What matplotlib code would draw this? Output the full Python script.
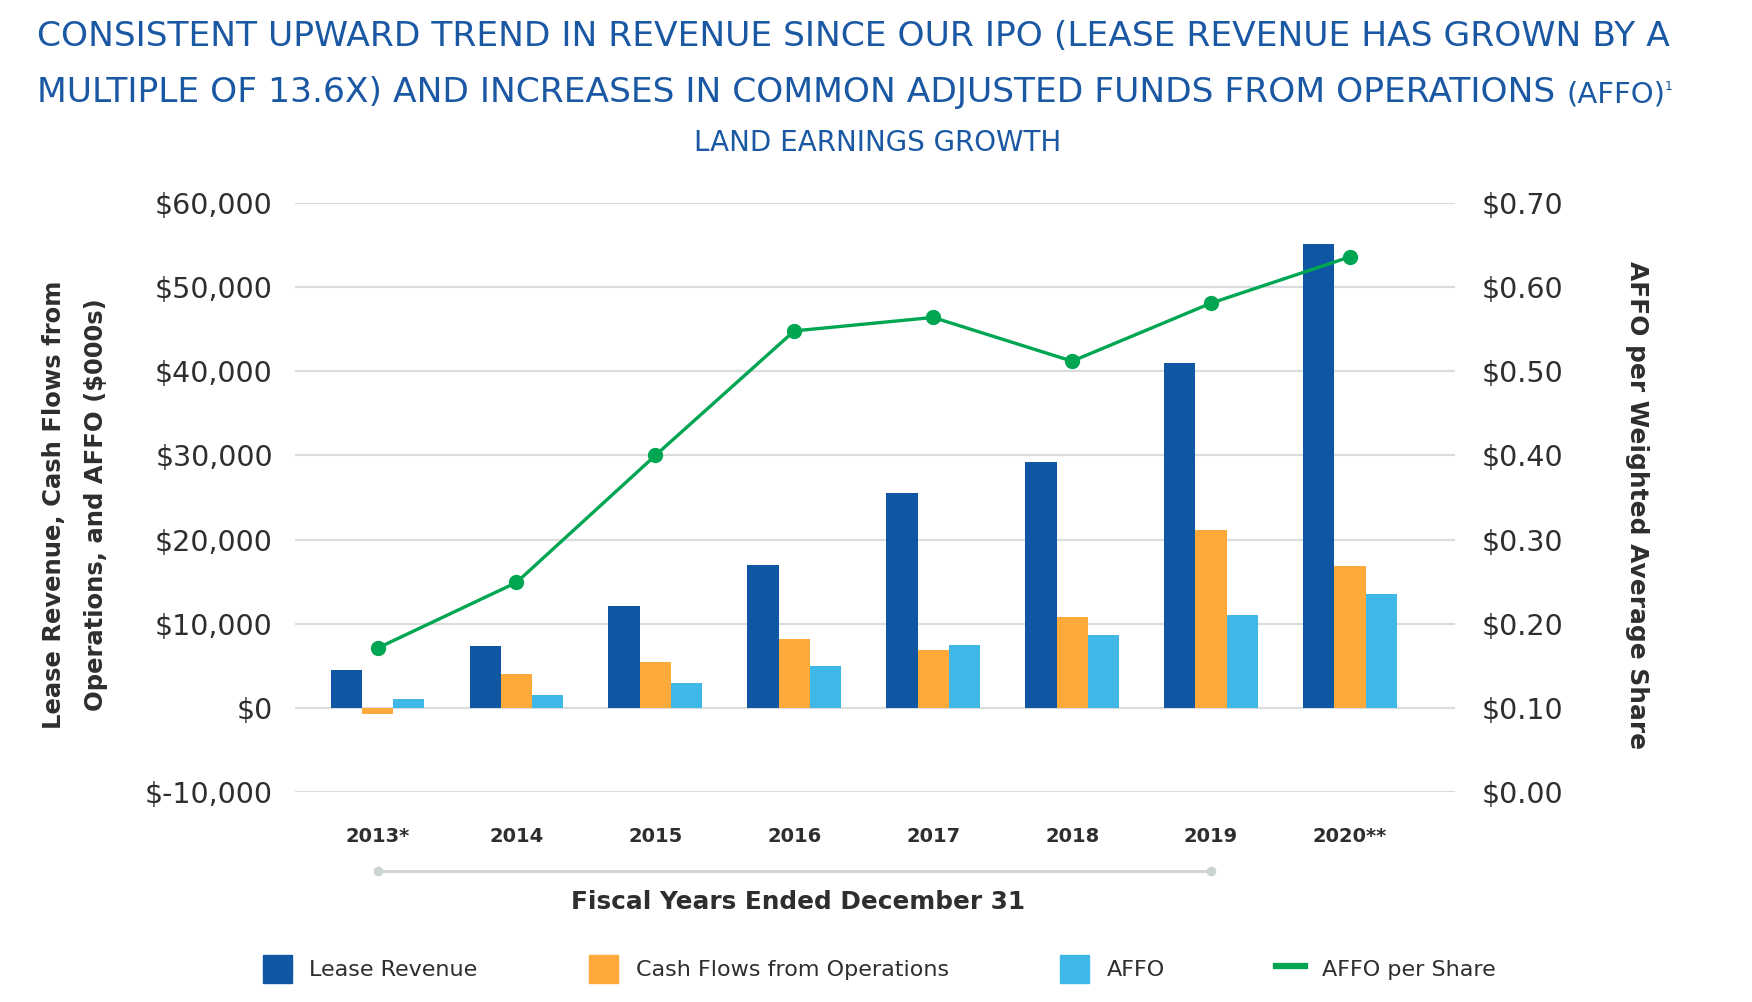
import numpy as np
import matplotlib.pyplot as plt
from matplotlib.patches import Patch
from matplotlib.lines import Line2D
from matplotlib.ticker import FuncFormatter, MultipleLocator
import matplotlib.transforms as mtransforms

years = ["2013*", "2014", "2015", "2016", "2017", "2018", "2019", "2020**"]
lease_revenue = [4450, 7350, 12050, 17000, 25550, 29200, 40950, 55150]
cash_flows = [-750, 4050, 5400, 8200, 6850, 10800, 21150, 16900]
affo = [1000, 1500, 2950, 4950, 7500, 8700, 11000, 13550]
affo_per_share = [0.171, 0.249, 0.400, 0.548, 0.564, 0.512, 0.581, 0.636]

BLUE = "#0F57A2"
ORANGE = "#FDAA3A"
LIGHT_BLUE = "#40B8E7"
GREEN = "#00A651"
TITLE_BLUE = "#1B58A4"
GRID = "#DADDDD"
TEXT = "#2E2E2E"

fig = plt.figure(figsize=(17.52, 10.02), dpi=100)
ax = fig.add_axes([295 / 1752, 1 - 792 / 1002, (1455 - 295) / 1752, (792 - 203) / 1002])
ax2 = ax.twinx()

x = np.arange(len(years))
w = 0.225
ax.bar(x - w, lease_revenue, w, color=BLUE, zorder=2)
ax.bar(x, cash_flows, w, color=ORANGE, zorder=2)
ax.bar(x + w, affo, w, color=LIGHT_BLUE, zorder=2)

ax.set_xlim(-0.594, 7.756)
ax.set_ylim(-10000, 60000)
ax.yaxis.set_major_locator(MultipleLocator(10000))
ax.yaxis.set_major_formatter(FuncFormatter(lambda v, p: f"${v:,.0f}"))
ax.grid(axis="y", color=GRID, lw=1.6)
ax.set_axisbelow(True)

ax2.plot(x, affo_per_share, color=GREEN, lw=2.4, marker="o", ms=10, zorder=3)
ax2.set_ylim(0, 0.70)
ax2.yaxis.set_major_locator(MultipleLocator(0.10))
ax2.yaxis.set_major_formatter(FuncFormatter(lambda v, p: f"${v:.2f}"))

for a in (ax, ax2):
    for s in a.spines.values():
        s.set_visible(False)
ax.tick_params(axis="y", length=0, pad=16, labelsize=20.5, labelcolor=TEXT)
ax2.tick_params(axis="y", length=0, pad=19.5, labelsize=20.5, labelcolor=TEXT)
ax.set_xticks(x)
ax.set_xticklabels(years, fontsize=14, fontweight="bold", color=TEXT)
ax.tick_params(axis="x", length=0, pad=25.5)

# grey bracket line under the year labels
trans = mtransforms.blended_transform_factory(ax.transData, ax.transAxes)
ax.plot([0, 6], [-0.1335, -0.1335], transform=trans, clip_on=False, color="#CDD2D2",
        lw=2, marker="o", ms=6)

fig.text(798 / 1752, 1 - 902 / 1002, "Fiscal Years Ended December 31", ha="center", va="center",
         fontsize=17.8, fontweight="bold", color=TEXT)
fig.text(75 / 1752, 1 - 505 / 1002, "Lease Revenue, Cash Flows from\nOperations, and AFFO ($000s)",
         rotation=90, ha="center", va="center", multialignment="center", linespacing=1.9,
         fontsize=17.5, fontweight="bold", color=TEXT)
fig.text(1637 / 1752, 1 - 505 / 1002, "AFFO per Weighted Average Share", rotation=270,
         ha="center", va="center", fontsize=17.9, fontweight="bold", color=TEXT)

# titles
fig.text(37 / 1752, 1 - 46 / 1002,
         "CONSISTENT UPWARD TREND IN REVENUE SINCE OUR IPO (LEASE REVENUE HAS GROWN BY A",
         fontsize=24.8, color=TITLE_BLUE, va="baseline")
t2 = fig.text(37 / 1752, 1 - 102 / 1002,
              "MULTIPLE OF 13.6X) AND INCREASES IN COMMON ADJUSTED FUNDS FROM OPERATIONS ",
              fontsize=24.8, color=TITLE_BLUE, va="baseline")
fig.canvas.draw()
end2 = t2.get_window_extent().x1 / 1752
t3 = fig.text(end2, 1 - 102 / 1002, "(AFFO)", fontsize=21, color=TITLE_BLUE, va="baseline")
fig.canvas.draw()
end3 = t3.get_window_extent().x1 / 1752
fig.text(end3, 1 - 90 / 1002, "1", fontsize=9, color=TITLE_BLUE, va="baseline")
fig.text(878 / 1752, 1 - 143 / 1002, "LAND EARNINGS GROWTH", fontsize=20, color=TITLE_BLUE,
         ha="center", va="center")

handles = [Patch(color=BLUE), Patch(color=ORANGE), Patch(color=LIGHT_BLUE),
           Line2D([], [], color=GREEN, lw=4.5)]
labels = ["Lease Revenue", "Cash Flows from Operations", "AFFO", "AFFO per Share"]
leg = fig.legend(handles, labels, loc="center", bbox_to_anchor=(0.502, 0.033), ncol=4,
                 frameon=False, fontsize=16, handlelength=1.3, handleheight=1.55,
                 handletextpad=0.8, columnspacing=5.0)
for t in leg.get_texts():
    t.set_color(TEXT)

fig.savefig("out.png", dpi=100)
